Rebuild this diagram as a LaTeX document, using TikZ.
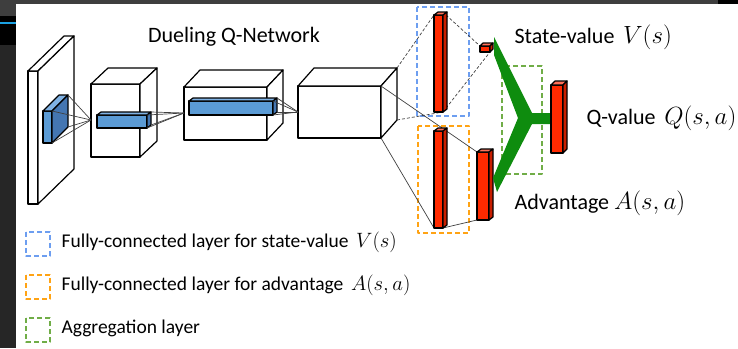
\documentclass[tikz,border=0pt]{standalone}
\usepackage{fontspec}
\setmainfont{Carlito}

\definecolor{barred}{RGB}{255,42,0}
\definecolor{bartop}{RGB}{255,112,88}
\definecolor{barside}{RGB}{200,30,0}
\definecolor{patchblue}{RGB}{91,155,213}
\definecolor{patchtop}{RGB}{128,178,228}
\definecolor{patchside}{RGB}{68,118,178}
\definecolor{vblue}{RGB}{109,158,240}
\definecolor{aorange}{RGB}{255,163,20}
\definecolor{aggreen}{RGB}{112,173,71}
\definecolor{ygreen}{RGB}{14,140,14}
\definecolor{framegray}{RGB}{62,62,62}
\definecolor{sidegray}{RGB}{38,38,38}
\definecolor{tabblue}{RGB}{27,161,226}

% box: x, y (front top left), width, height, depth x, depth y, front, top, side
\newcommand{\drawbox}[9]{%
	\filldraw[fill=#7] (#1,#2) rectangle ++(#3,#4);
	\filldraw[fill=#8] (#1,#2) -- ++(#5,-#6) -- ++(#3,0) -- ++(-#5,#6) -- cycle;
	\filldraw[fill=#9] (#1+#3,#2) -- ++(#5,-#6) -- ++(0,#4) -- ++(-#5,#6) -- cycle;
}
% bigger math, as in the labels
\newcommand{\bigmath}[1]{{\fontsize{26}{26}\selectfont$#1$}}
\newcommand{\legmath}[1]{{\fontsize{21}{21}\selectfont$#1$}}

\tikzset{
	wire/.style={line width=0.7pt, black!75},
	fcwire/.style={wire, dash pattern=on 3pt off 2pt},
	fcbox/.style={line width=1.6pt, dash pattern=on 5pt off 3pt},
	label/.style={anchor=west, inner sep=1pt},
	legendtext/.style={anchor=west, inner sep=1pt, font=\fontsize{19.5}{22}\selectfont}
}

\begin{document}
\begin{tikzpicture}[
	line width=1.2pt,
	line join=round,
	x=1pt,y=-1pt,
	font=\fontsize{22}{26}\selectfont
	]
\useasboundingbox (0,0) rectangle (738,348);

% begin frame
\fill[framegray] (0,0) rectangle (738,4);
\fill[black] (718,0) rectangle (738,4);
\fill[sidegray] (0,0) rectangle (16,348);
\fill[framegray] (0,0) rectangle (16,16);
\fill[black] (0,16) rectangle (16,45);
\fill[tabblue] (0,22) rectangle (16,24);
% end frame

\node (title) at (234,37) {Dueling Q-Network};

% conv part
\drawbox{28}{71}{10}{133}{36}{35}{white}{white}{white}
\drawbox{43}{111}{9}{32}{16}{16}{patchblue}{patchtop}{patchside}
\drawbox{91}{84}{49}{73}{17}{16}{white}{white}{white}
\drawbox{97}{115}{50}{13}{4}{3}{patchblue}{patchtop}{patchside}
\drawbox{184}{87}{83}{53}{16}{17}{white}{white}{white}
\drawbox{189}{101}{84}{14}{4}{3}{patchblue}{patchtop}{patchside}
\drawbox{298}{86}{83}{52}{16}{18}{white}{white}{white}

			\coordinate (p1_ftr) at (52,111);
			\coordinate (p1_btr) at (68,95);
			\coordinate (p1_bbr) at (68,127);
			\coordinate (p1_fbr) at (52,143);
			\coordinate (apex_c2) at (91,120);
			\coordinate (p2_ftr) at (147,115);
			\coordinate (p2_btr) at (151,112);
			\coordinate (p2_bbr) at (151,125);
			\coordinate (p2_fbr) at (147,128);
			\coordinate (apex_c3) at (184,113);
			\coordinate (p3_ftr) at (273,101);
			\coordinate (p3_btr) at (277,98);
			\coordinate (p3_bbr) at (277,112);
			\coordinate (p3_fbr) at (273,115);
			\coordinate (apex_c4) at (298,112);
			\coordinate (c4_ftr) at (381,86);
			\coordinate (c4_fbr) at (381,138);
			\coordinate (c4_btr) at (397,68);
			\coordinate (c4_bbr) at (397,120);

\foreach \k in {1,2,3}
\foreach \c in {ftr,btr,bbr,fbr}
\draw[wire] (p\k_\c) -- (apex_c\the\numexpr\k+1\relax);

% fully-connected part
\draw[fcbox, vblue] (417,7) rectangle (469,116);
\draw[fcbox, aorange] (418,126) rectangle (469,233);
\draw[fcbox, aggreen] (502,66) rectangle (542,174);

			\coordinate (vh_tl) at (434,15);
			\coordinate (vh_tr) at (446,15);
			\coordinate (vh_br) at (443,112);
			\coordinate (vo_tl) at (480,46);
			\coordinate (vo_br) at (490,52);
			\coordinate (ah_bl) at (434,228);
			\coordinate (ah_br) at (443,228);
			\coordinate (ao_tl) at (477,152);
			\coordinate (ao_bl) at (477,220);

			\draw[fcwire] (c4_btr) -- (vh_tl);
			\draw[fcwire] (c4_bbr) -- (vh_br);
			\draw[fcwire] (vh_tr) -- (vo_tl);
			\draw[fcwire] (vh_br) -- (vo_br);
			\draw[wire] (c4_ftr) -- (ao_tl);
			\draw[wire] (c4_fbr) -- (ah_bl);
			\draw[wire] (ah_br) -- (ao_bl);

\drawbox{434}{15}{9}{97}{4}{3}{barred}{bartop}{barside}
\drawbox{434}{131}{9}{97}{4}{3}{barred}{bartop}{barside}
\drawbox{480}{46}{10}{6}{3}{3}{barred}{bartop}{barside}
\drawbox{477}{152}{12}{68}{4}{3}{barred}{bartop}{barside}

% aggregation
\fill[ygreen] (494,37) -- (532,113) -- (552,113) -- (552,124) -- (532,124)
	-- (497,192) -- (493,178) -- (518,118) -- (494,55) -- cycle;
\drawbox{551}{85}{12}{68}{4}{4}{barred}{bartop}{barside}

\node[label] (v_label) at (513,37) {State-value \,\bigmath{V(s)}};
\node[label] (q_label) at (585,118) {Q-value \,\bigmath{Q(s,a)}};
\node[label] (a_label) at (513,203) {Advantage \bigmath{A(s,a)}};

% legend
\foreach \c/\y/\t in {vblue/244/{Fully-connected layer for state-value \,\legmath{V(s)}},
	aorange/287/{Fully-connected layer for advantage \,\legmath{A(s,a)}},
	aggreen/330/{Aggregation layer}}
{
\draw[fcbox, \c] (26,\y-12) rectangle (50,\y+12);
\node[legendtext] (legend_\y) at (60,\y-2) {\t};
}

\end{tikzpicture}
\end{document}
